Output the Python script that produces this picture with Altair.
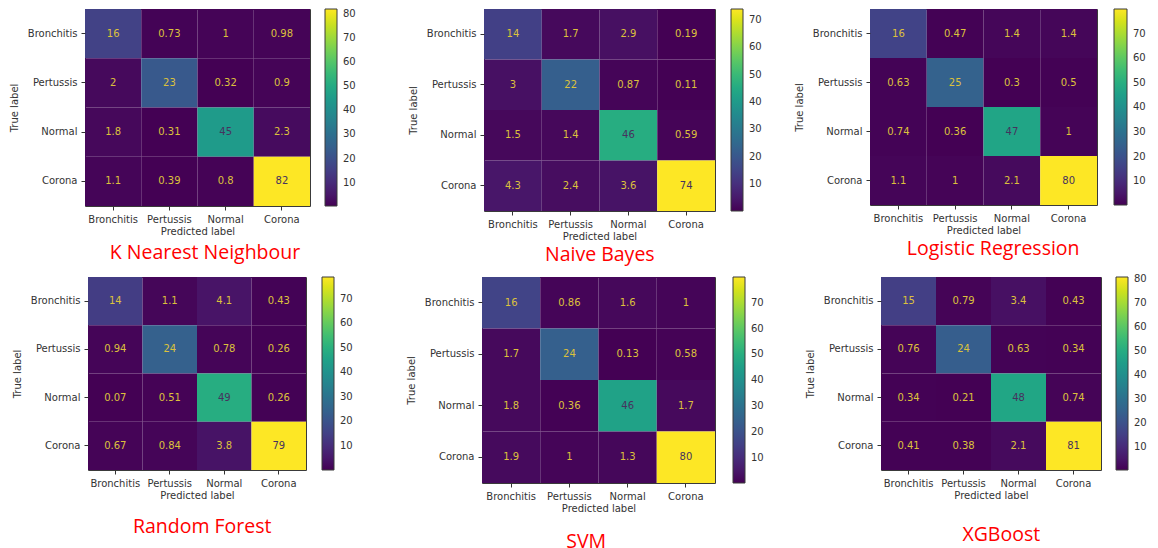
import altair as alt
import pandas as pd

# ---------------- data ----------------
classes = ["Bronchitis", "Pertussis", "Normal", "Corona"]

knn = [[16, 0.73, 1, 0.98],
       [2, 23, 0.32, 0.9],
       [1.8, 0.31, 45, 2.3],
       [1.1, 0.39, 0.8, 82]]
nb = [[14, 1.7, 2.9, 0.19],
      [3, 22, 0.87, 0.11],
      [1.5, 1.4, 46, 0.59],
      [4.3, 2.4, 3.6, 74]]
lr = [[16, 0.47, 1.4, 1.4],
      [0.63, 25, 0.3, 0.5],
      [0.74, 0.36, 47, 1],
      [1.1, 1, 2.1, 80]]
rf = [[14, 1.1, 4.1, 0.43],
      [0.94, 24, 0.78, 0.26],
      [0.07, 0.51, 49, 0.26],
      [0.67, 0.84, 3.8, 79]]
svm = [[16, 0.86, 1.6, 1],
       [1.7, 24, 0.13, 0.58],
       [1.8, 0.36, 46, 1.7],
       [1.9, 1, 1.3, 80]]
xgb = [[15, 0.79, 3.4, 0.43],
       [0.76, 24, 0.63, 0.34],
       [0.34, 0.21, 48, 0.74],
       [0.41, 0.38, 2.1, 81]]

model_names = ["K Nearest Neighbour", "Naive Bayes", "Logistic Regression",
               "Random Forest", "SVM", "XGBoost"]

ticks_knn = [10, 20, 30, 40, 50, 60, 70, 80]
ticks_nb = [10, 20, 30, 40, 50, 60, 70]
ticks_lr = [10, 20, 30, 40, 50, 60, 70]
ticks_rf = [10, 20, 30, 40, 50, 60, 70]
ticks_svm = [10, 20, 30, 40, 50, 60, 70]
ticks_xgb = [10, 20, 30, 40, 50, 60, 70, 80]

# ---------------- style / layout ----------------
AX_FONT = "DejaVu Sans"
INK = "#333333"
FRAME = "#3a3a3a"
LIGHT_TXT = "#dcc13c"
DARK_TXT = "#46325e"
TITLE_RED = "#ff0000"

# width, height, legend offset, legend thickness, title dx, title offset
layout = [
    dict(W=225, H=197, lo=15, lt=12, dx=7.5, to=8.0),
    dict(W=231, H=202, lo=16, lt=12, dx=0.3, to=5.3),
    dict(W=227, H=196, lo=17, lt=13, dx=9.7, to=4.8),
    dict(W=218, H=193, lo=16, lt=12, dx=5.2, to=17.6),
    dict(W=233, H=206, lo=18, lt=12, dx=-12.3, to=19.8),
    dict(W=220, H=193, lo=15, lt=12, dx=10.3, to=26.0),
]


def spacer(w):
    return alt.Chart(pd.DataFrame({"s": [0]})).mark_point(opacity=0, size=1).encode(
        x=alt.value(0), y=alt.value(20)
    ).properties(width=w, height=40, view=alt.ViewBackground(stroke="transparent"))


def panel(vals, ticks, name, g):
    flat = [v for row in vals for v in row]
    lo, hi = min(flat), max(flat)
    mid = (lo + hi) / 2
    recs = []
    for i, t in enumerate(classes):
        for j, p in enumerate(classes):
            recs.append({"true": t, "pred": p, "v": vals[i][j]})
    df = pd.DataFrame(recs)
    base = alt.Chart(df)
    x = alt.X("pred:N", sort=classes,
              scale=alt.Scale(paddingInner=0, paddingOuter=0),
              axis=alt.Axis(title="Predicted label", labelAngle=0, labelOverlap=False,
                            titlePadding=2))
    y = alt.Y("true:N", sort=classes,
              scale=alt.Scale(paddingInner=0, paddingOuter=0),
              axis=alt.Axis(title="True label", labelOverlap=False, titlePadding=8))
    rect = base.mark_rect().encode(
        x=x, y=y,
        color=alt.Color("v:Q",
                        scale=alt.Scale(scheme="viridis", domain=[lo, hi]),
                        legend=alt.Legend(title=None, values=ticks,
                                          gradientLength=g["H"], gradientThickness=g["lt"],
                                          offset=g["lo"], padding=0, labelOffset=6,
                                          labelFont=AX_FONT, labelFontSize=10,
                                          labelColor=INK, gradientStrokeColor=FRAME,
                                          gradientStrokeWidth=1, labelOverlap=False)),
    )
    text = base.mark_text(font=AX_FONT, fontSize=10).encode(
        x=x, y=y,
        text=alt.Text("v:Q", format=".2~g"),
        color=alt.condition(f"datum.v > {mid}", alt.value(DARK_TXT), alt.value(LIGHT_TXT)),
    )
    return alt.layer(rect, text).properties(
        width=g["W"], height=g["H"],
        title=alt.TitleParams(name, orient="bottom", anchor="middle", frame="group",
                              color=TITLE_RED, font="Open Sans", fontSize=19.5,
                              fontWeight="normal", dx=g["dx"], offset=g["to"]),
    )


mats = [knn, nb, lr, rf, svm, xgb]
tks = [ticks_knn, ticks_nb, ticks_lr, ticks_rf, ticks_svm, ticks_xgb]
P = [panel(m, t, n, g) for m, t, n, g in zip(mats, tks, model_names, layout)]

row1 = alt.hconcat(P[0], spacer(174), P[1], spacer(155), P[2],
                   spacing=0, bounds="flush").resolve_scale(color="independent")
row2 = alt.hconcat(spacer(3), P[3], spacer(176), P[4], spacer(166), P[5],
                   spacing=0, bounds="flush").resolve_scale(color="independent")

chart = alt.vconcat(row1, row2, spacing=10).resolve_scale(
    color="independent"
).properties(
    autosize=alt.AutoSizeParams(type="none"),
    padding={"left": 77, "top": 1, "right": 1065, "bottom": 539},
    background="white",
).configure_view(
    stroke=FRAME, strokeWidth=1
).configure_axis(
    labelFont=AX_FONT, labelFontSize=10, labelColor=INK,
    titleFont=AX_FONT, titleFontSize=10, titleFontWeight="normal", titleColor=INK,
    tickColor=INK, tickSize=4, labelPadding=4, domain=False, grid=False,
)

chart.save("out.html", embed_options={"renderer": "svg", "actions": False})
